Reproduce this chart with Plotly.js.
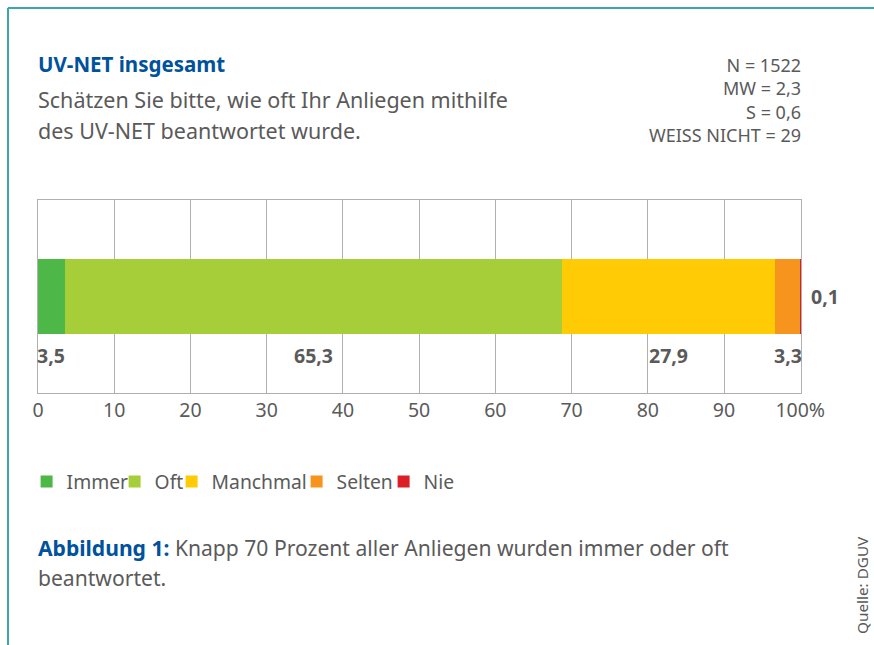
<!DOCTYPE html>
<html><head><meta charset="utf-8">
<script src="https://cdn.plot.ly/plotly-3.0.1.min.js"></script>
<style>html,body{margin:0;padding:0;background:#fff}#chart{width:874px;height:645px}</style>
</head><body><div id="chart"></div>
<script>
const categories = ["Immer", "Oft", "Manchmal", "Selten", "Nie"];
const values = [3.5, 65.3, 27.9, 3.3, 0.1];
const valueLabels = ["3,5", "65,3", "27,9", "3,3", "0,1"];
const colors = ["#4db848", "#a6ce39", "#fecb05", "#f7941d", "#dc1f26"];
const tickVals = [0, 10, 20, 30, 40, 50, 60, 70, 80, 90, 100];
const tickText = ["0", "10", "20", "30", "40", "50", "60", "70", "80", "90", "100%"];
const statLines = ["N = 1522", "MW = 2,3", "S = 0,6", "WEISS NICHT = 29"];

const FONT = "Noto Sans, Open Sans, sans-serif";
const GRAY = "#5a5a5a";
const BLUE = "#00529c";
const legendSquareLeft = [38, 126, 183, 308, 395];

const traces = categories.map((c, i) => ({
  type: "bar", orientation: "h", name: c,
  x: [values[i]], y: [0], width: 0.785,
  legend: i === 0 ? "legend" : "legend" + (i + 1),
  marker: {color: colors[i], line: {width: 0}},
  hoverinfo: "skip"
}));

const annotations = [];
let cum = 0;
values.forEach((v, i) => {
  const mid = cum + v / 2;
  cum += v;
  if (i < values.length - 1) {
    annotations.push({x: mid, y: -0.61, xref: "x", yref: "y", text: "<b>" + valueLabels[i] + "</b>",
      showarrow: false, xanchor: "center", yanchor: "middle", font: {family: FONT, size: 19.5, color: GRAY}});
  } else {
    annotations.push({x: cum, y: 0, xref: "x", yref: "y", text: "<b>" + valueLabels[i] + "</b>",
      showarrow: false, xanchor: "left", yanchor: "middle", xshift: 8, font: {family: FONT, size: 19.5, color: GRAY}});
  }
});

const py = p => (393 - p) / 193;
const left = (text, y, size, color) => ({x: 0, y: py(y), xref: "paper", yref: "paper", text: text, xshift: -2,
  showarrow: false, xanchor: "left", yanchor: "middle", font: {family: FONT, size: size, color: color}});
annotations.push(left("<b>UV-NET insgesamt</b>", 64, 20.5, BLUE));
annotations.push(left("Schätzen Sie bitte, wie oft Ihr Anliegen mithilfe", 100, 21.5, GRAY));
annotations.push(left("des UV-NET beantwortet wurde.", 130, 21.5, GRAY));
annotations.push({x: 1, y: py(100), xref: "paper", yref: "paper", text: statLines.join("<br>"), xshift: 2, align: "right",
  showarrow: false, xanchor: "right", yanchor: "middle", font: {family: FONT, size: 18, color: GRAY}});
annotations.push(left("<b><span style='color:" + BLUE + "'>Abbildung 1:</span></b> Knapp 70 Prozent aller Anliegen wurden immer oder oft", 547, 21.1, GRAY));
annotations.push(left("beantwortet.", 577, 21.1, GRAY));
annotations.push({x: (862 - 38) / 763, y: py(585), xref: "paper", yref: "paper", text: "Quelle: DGUV", textangle: -90,
  showarrow: false, xanchor: "center", yanchor: "middle", font: {family: FONT, size: 15.3, color: GRAY}});

const layout = {
  width: 874, height: 645,
  margin: {l: 38, r: 73, t: 200, b: 252},
  paper_bgcolor: "#fff", plot_bgcolor: "#fff",
  barmode: "stack", showlegend: true,
  font: {family: FONT, color: GRAY},
  xaxis: {range: [0, 100.1], tickvals: tickVals, ticktext: tickText, showgrid: true, gridcolor: "#b0b0b0", gridwidth: 1,
    zeroline: false, showline: true, mirror: true, linecolor: "#b0b0b0", linewidth: 1, ticks: "",
    tickfont: {family: FONT, size: 19.5, color: GRAY}, fixedrange: true},
  yaxis: {range: [-1, 1], showticklabels: false, showgrid: false, zeroline: false, showline: true, mirror: true,
    linecolor: "#b0b0b0", linewidth: 1, ticks: "", fixedrange: true},
  annotations: annotations,
  shapes: [
    {type: "line", xref: "paper", yref: "paper", x0: -30 / 763, x1: 836 / 763, y0: py(8), y1: py(8), line: {color: "#3aa8a8", width: 2}},
    {type: "line", xref: "paper", yref: "paper", x0: -30 / 763, x1: -30 / 763, y0: py(8), y1: py(650), line: {color: "#3aa8a8", width: 2}}
  ]
};
legendSquareLeft.forEach((s, i) => {
  layout[i === 0 ? "legend" : "legend" + (i + 1)] = {orientation: "h", x: (s - 11.4 - 38) / 763, y: py(482),
    xanchor: "left", yanchor: "middle", font: {family: FONT, size: 19.3, color: GRAY}, bgcolor: "rgba(0,0,0,0)"};
});
Plotly.newPlot("chart", traces, layout, {displayModeBar: false, staticPlot: true});
</script></body></html>
